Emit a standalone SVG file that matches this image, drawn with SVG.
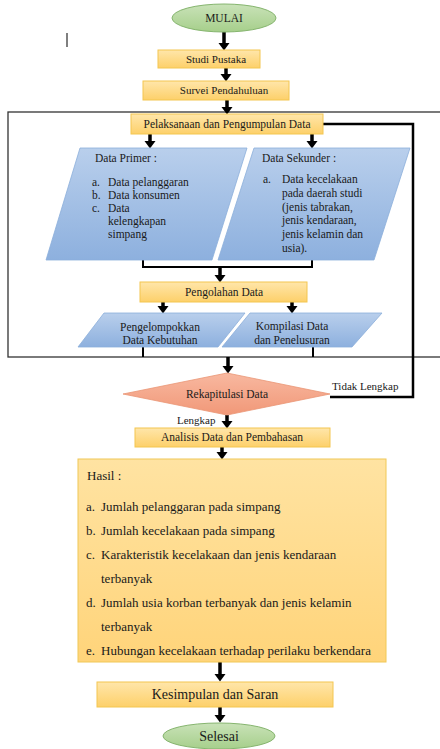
<svg xmlns="http://www.w3.org/2000/svg" width="440" height="749" viewBox="0 0 440 749">
<defs>
<linearGradient id="gold" x1="0" y1="0" x2="0" y2="1"><stop offset="0" stop-color="#FFE6AA"/><stop offset="1" stop-color="#FDD06A"/></linearGradient>
<linearGradient id="gold2" x1="0" y1="0" x2="0" y2="1"><stop offset="0" stop-color="#FFE3A2"/><stop offset="1" stop-color="#FFD47A"/></linearGradient>
<linearGradient id="blue" x1="0" y1="0" x2="0" y2="1"><stop offset="0" stop-color="#B9CFEC"/><stop offset="1" stop-color="#8DB0DE"/></linearGradient>
<linearGradient id="green" x1="0" y1="0" x2="0" y2="1"><stop offset="0" stop-color="#C9E2B8"/><stop offset="1" stop-color="#A6CF8B"/></linearGradient>
<linearGradient id="salmon" x1="0" y1="0" x2="0" y2="1"><stop offset="0" stop-color="#F8B8A0"/><stop offset="1" stop-color="#F19878"/></linearGradient>
<marker id="ah" markerUnits="userSpaceOnUse" viewBox="0 -6 8 12" refX="0" refY="0" markerWidth="8" markerHeight="12" orient="auto"><path d="M0,-5.5 L7.5,0 L0,5.5 z" fill="#000"/></marker>
</defs>
<style>
text{font-family:"Liberation Serif","Times New Roman",serif;fill:#1a1a1a}
.s{font-size:11px}
.m{font-size:11.5px}
.l{font-size:13px}
.k{font-size:14px}
.box{fill:url(#gold);stroke:#F3C650;stroke-width:1}
.par{fill:url(#blue);stroke:#8CAEDB;stroke-width:0.8}
.ell{fill:url(#green);stroke:#86B56F;stroke-width:1}
.arr{stroke:#000;stroke-width:3.5;fill:none;marker-end:url(#ah)}
.ln{stroke:#000;stroke-width:2;fill:none}
.c{text-anchor:middle}
</style>
<rect x="0" y="0" width="440" height="749" fill="#fff"/>
<line x1="67" y1="33" x2="67" y2="47" stroke="#555" stroke-width="1.5"/>
<rect id="frame" x="8" y="112" width="440" height="245" fill="none" stroke="#333" stroke-width="1.3"/>

<g id="connectors">
<line class="arr" x1="224" y1="32" x2="224" y2="43"/>
<line class="arr" x1="226" y1="68" x2="226" y2="74"/>
<line class="arr" x1="227" y1="100" x2="227" y2="107"/>
<path d="M323,124 H413 V397 H330" fill="none" stroke="#000" stroke-width="2.5"/>
<line class="arr" x1="150" y1="134" x2="150" y2="141"/>
<line class="arr" x1="312" y1="134" x2="312" y2="141"/>
<path class="ln" d="M143,260 V267 H312 V260"/>
<line class="arr" x1="220" y1="267" x2="220" y2="275"/>
<line class="arr" x1="163" y1="302" x2="163" y2="306"/>
<line class="arr" x1="292" y1="302" x2="292" y2="306"/>
<path class="ln" d="M143,347 V357 M313,347 V357"/>
<line class="arr" x1="228" y1="357" x2="228" y2="366"/>
<line class="arr" x1="227" y1="415" x2="227" y2="421"/>
<line class="arr" x1="222" y1="447" x2="222" y2="452"/>
<line class="arr" x1="220" y1="662" x2="220" y2="674"/>
<line class="arr" x1="220" y1="707" x2="220" y2="715"/>
<text class="s" x="332" y="390">Tidak Lengkap</text>
<text class="s" x="177" y="424">Lengkap</text>
</g>

<g id="mulai"><ellipse class="ell" cx="224" cy="18" rx="52" ry="14"/><text class="m c" x="224" y="22">MULAI</text></g>
<g id="studi"><rect class="box" x="158" y="50" width="102" height="18"/><text class="s c" x="216" y="63">Studi Pustaka</text></g>
<g id="survei"><rect class="box" x="143" y="81" width="146" height="19"/><text class="s c" x="224" y="94">Survei Pendahuluan</text></g>
<g id="pelaksanaan"><rect class="box" x="131" y="114" width="192" height="20"/><text class="m c" x="227" y="128">Pelaksanaan dan Pengumpulan Data</text></g>
<g id="primer"><polygon class="par" points="80,148 247,148 212,260 46,260"/>
<text class="m" x="95" y="162">Data Primer :</text>
<text class="m" x="92" y="186">a.</text><text class="m" x="108" y="186">Data pelanggaran</text>
<text class="m" x="92" y="199">b.</text><text class="m" x="108" y="199">Data konsumen</text>
<text class="m" x="92" y="212">c.</text><text class="m" x="108" y="212">Data</text>
<text class="m" x="108" y="225">kelengkapan</text>
<text class="m" x="108" y="238">simpang</text></g>
<g id="sekunder"><polygon class="par" points="254,148 410,148 374,260 218,260"/>
<text class="m" x="262" y="162">Data Sekunder :</text>
<text class="m" x="263" y="183">a.</text><text class="m" x="282" y="183">Data kecelakaan</text>
<text class="m" x="282" y="197">pada daerah studi</text>
<text class="m" x="282" y="211">(jenis tabrakan,</text>
<text class="m" x="282" y="224">jenis kendaraan,</text>
<text class="m" x="282" y="238">jenis kelamin dan</text>
<text class="m" x="282" y="252">usia).</text></g>
<g id="pengolahan"><rect class="box" x="140" y="282" width="167" height="20"/><text class="m c" x="224" y="296">Pengolahan Data</text></g>
<g id="pengelompokkan"><polygon class="par" points="104,313 245,313 218,347 78,347"/>
<text class="m c" x="160" y="331">Pengelompokkan</text><text class="m c" x="160" y="344">Data Kebutuhan</text></g>
<g id="kompilasi"><polygon class="par" points="250,313 382,313 352,347 222,347"/>
<text class="m c" x="292" y="330">Kompilasi Data</text><text class="m c" x="292" y="344">dan Penelusuran</text></g>
<g id="rekap"><polygon points="123,394 227,373 330,394 227,415" fill="url(#salmon)" stroke="#EA9575" stroke-width="0.8"/><text class="m c" x="227" y="398">Rekapitulasi Data</text></g>
<g id="analisis"><rect class="box" x="135" y="428" width="195" height="19"/><text class="m c" x="232" y="441">Analisis Data dan Pembahasan</text></g>
<g id="hasil"><rect x="78" y="459" width="308" height="203" fill="url(#gold2)" stroke="#F0C857" stroke-width="1"/>
<text class="l" x="87" y="480">Hasil :</text>
<text class="l" x="86" y="511">a.</text><text class="l" x="101" y="511">Jumlah pelanggaran pada simpang</text>
<text class="l" x="86" y="535">b.</text><text class="l" x="101" y="535">Jumlah kecelakaan pada simpang</text>
<text class="l" x="86" y="559">c.</text><text class="l" x="101" y="559">Karakteristik kecelakaan dan jenis kendaraan</text>
<text class="l" x="101" y="583">terbanyak</text>
<text class="l" x="86" y="607">d.</text><text class="l" x="101" y="607">Jumlah usia korban terbanyak dan jenis kelamin</text>
<text class="l" x="101" y="631">terbanyak</text>
<text class="l" x="86" y="655">e.</text><text class="l" x="101" y="655">Hubungan kecelakaan terhadap perilaku berkendara</text></g>
<g id="kesimpulan"><rect class="box" x="97" y="682" width="236" height="25"/><text class="k c" x="215" y="699">Kesimpulan dan Saran</text></g>
<g id="selesai"><ellipse class="ell" cx="219" cy="736" rx="56" ry="13"/><text class="k c" x="219" y="741">Selesai</text></g>
</svg>
